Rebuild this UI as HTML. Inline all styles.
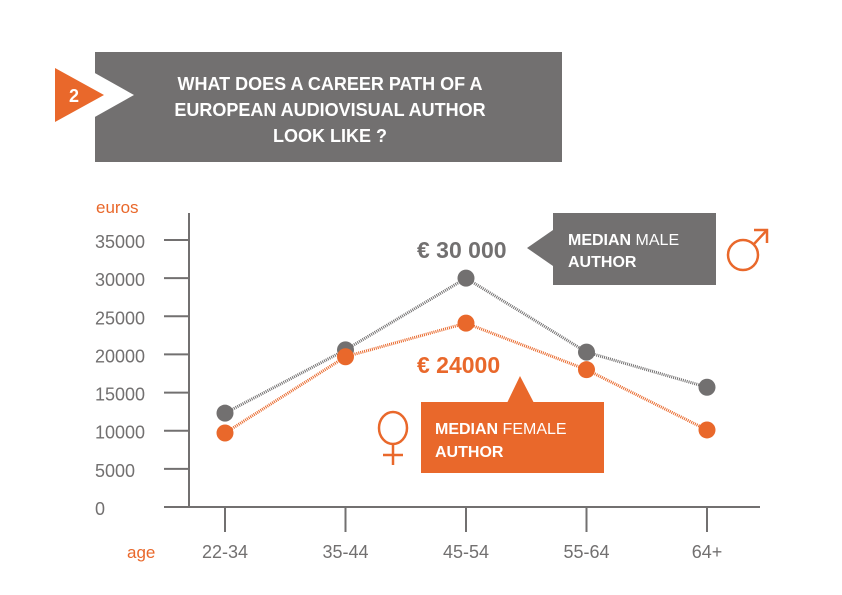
<!DOCTYPE html>
<html><head><meta charset="utf-8"><style>
html,body{margin:0;padding:0;background:#fff;}
svg{display:block;font-family:"Liberation Sans",sans-serif;}
</style></head><body>
<svg width="842" height="595" viewBox="0 0 842 595">
<g>
<rect x="95" y="52" width="467" height="110" fill="#727070"/>
<polygon points="93,72 134,95 93,118" fill="#fff"/>
<polygon points="55,68 104,95 55,122" fill="#e9682b"/>
<text x="69" y="102" font-size="18" font-weight="bold" fill="#fff">2</text>
<g font-size="18" font-weight="bold" fill="#fff" text-anchor="middle">
<text x="330" y="90">WHAT DOES A CAREER PATH OF A</text>
<text x="330" y="116">EUROPEAN AUDIOVISUAL AUTHOR</text>
<text x="330" y="142">LOOK LIKE ?</text>
</g></g>
<text x="96" y="213" font-size="17" fill="#e9682b">euros</text>
<text x="127" y="558" font-size="17" fill="#e9682b">age</text>
<g id="axes"></g>
<g id="series"></g>
<g>
<text x="417" y="258" font-size="23" font-weight="bold" fill="#727070">€ 30 000</text>
<polygon points="527,248 553,230 553,266" fill="#727070"/>
<rect x="553" y="213" width="163" height="72" fill="#727070"/>
<text x="568" y="245" font-size="16" fill="#fff"><tspan font-weight="bold">MEDIAN</tspan> MALE</text>
<text x="568" y="267" font-size="16" font-weight="bold" fill="#fff">AUTHOR</text>
<g fill="none" stroke="#e9682b" stroke-width="2.5">
<circle cx="743" cy="255" r="15"/><line x1="754" y1="244" x2="767" y2="230"/><polyline points="754,230 767,230 767,243"/>
</g></g>
<g>
<text x="417" y="373" font-size="23" font-weight="bold" fill="#e9682b">€ 24000</text>
<polygon points="520,376 507,403 534,403" fill="#e9682b"/>
<rect x="421" y="402" width="183" height="71" fill="#e9682b"/>
<text x="435" y="434" font-size="16" fill="#fff"><tspan font-weight="bold">MEDIAN</tspan> FEMALE</text>
<text x="435" y="457" font-size="16" font-weight="bold" fill="#fff">AUTHOR</text>
<g fill="none" stroke="#e9682b" stroke-width="2.5">
<ellipse cx="393" cy="428" rx="14" ry="16"/><line x1="393" y1="444" x2="393" y2="465"/><line x1="383" y1="455" x2="403" y2="455"/>
</g></g>
</svg>
<script>
const categories=["22-34","35-44","45-54","55-64","64+"];
const maleValues=[12300,20600,30000,20300,15700];
const femaleValues=[9700,19700,24100,18000,10100];
const yTicks=[0,5000,10000,15000,20000,25000,30000,35000];
const NS="http://www.w3.org/2000/svg";
function yS(v){return 507-v*(267/35000);}
function xS(i){return 225+i*120.5;}
function mk(t,a,p){const e=document.createElementNS(NS,t);for(const k in a)e.setAttribute(k,a[k]);p.appendChild(e);return e;}
const ax=document.getElementById('axes');
const yl=mk('line',{x1:189,y1:213,x2:189,y2:507,stroke:'#727070','stroke-width':2},ax);


const xl=mk('line',{x1:164,y1:507,x2:760,y2:507,stroke:'#727070','stroke-width':2},ax);


yTicks.forEach(v=>{
 const y=yS(v);
 if(v>0){const t=mk('line',{x1:164,y1:y,x2:189,y2:y,stroke:'#727070','stroke-width':2},ax);
 
 }
 const tx=mk('text',{x:95,y:y+8,'font-size':18,fill:'#727070'},ax);tx.textContent=v;
 
 
});
categories.forEach((c,i)=>{
 const x=xS(i);
 const t=mk('line',{x1:x,y1:507,x2:x,y2:532,stroke:'#727070','stroke-width':2},ax);
 
 
 const tx=mk('text',{x:x,y:558,'font-size':18,fill:'#727070','text-anchor':'middle'},ax);tx.textContent=c;
 
 
});
const sg=document.getElementById('series');
function draw(vals,col,name){
 const pts=vals.map((v,i)=>xS(i)+','+yS(v)).join(' ');
 const l=mk('polyline',{points:pts,fill:'none',stroke:col,'stroke-width':3,'stroke-dasharray':'1 1'},sg);
 
 
 vals.forEach((v,i)=>{
  const c=mk('circle',{cx:xS(i),cy:yS(v),r:8.5,fill:col},sg);
  
  
 });
}
draw(maleValues,'#727070','male');
draw(femaleValues,'#e9682b','female');
</script>
</body></html>
